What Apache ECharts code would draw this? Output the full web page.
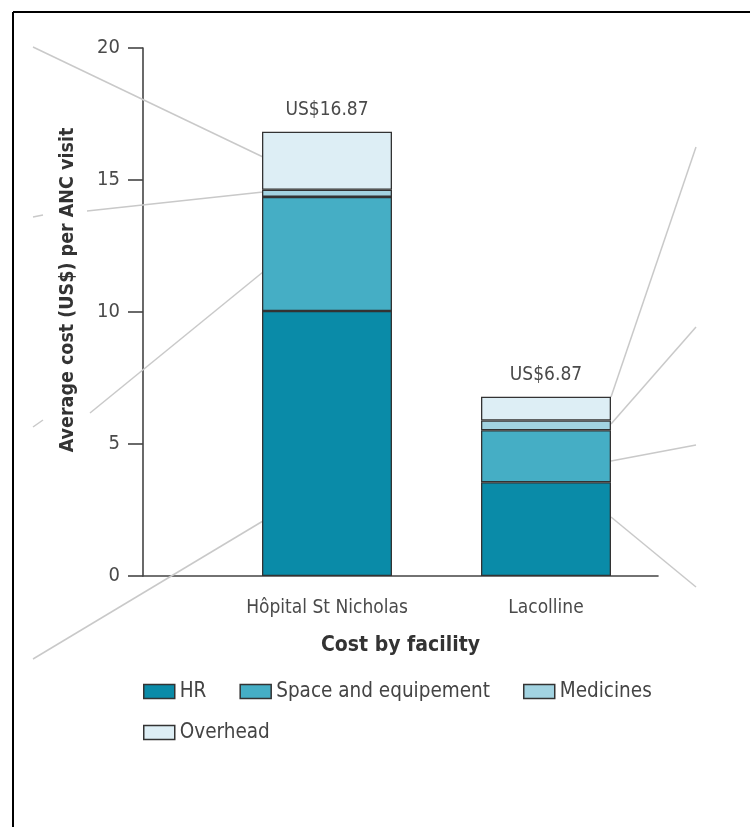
<!DOCTYPE html>
<html>
<head>
<meta charset="utf-8">
<script src="https://cdn.jsdelivr.net/npm/echarts@6/dist/echarts.min.js"></script>
<style>
html,body{margin:0;padding:0;background:#fff;}
#chart{width:750px;height:827px;}
</style>
</head>
<body>
<div id="chart"></div>
<script>
// ---- data ----
var categories = ["Hôpital St Nicholas", "Lacolline"];
var seriesNames = ["HR", "Space and equipement", "Medicines", "Overhead"];
var hrValues = [10.04, 3.55];
var spaceValues = [4.32, 1.97];
var medicineValues = [0.27, 0.37];
var overheadValues = [2.20, 0.90];
var totalLabels = ["US$16.87", "US$6.87"];
var yTicks = [0, 5, 10, 15, 20];

var colors = ["#0a8ba8", "#45aec5", "#a2d3e1", "#ddeef5"];
var FONT = "'Liberation Sans Narrow','DejaVu Sans Condensed','Roboto Condensed',sans-serif";
var valuesList = [hrValues, spaceValues, medicineValues, overheadValues];

var chart = echarts.init(document.getElementById('chart'), null, {renderer: 'canvas'});

var series = valuesList.map(function (vals, i) {
  var s = {
    name: seriesNames[i],
    type: 'bar',
    stack: 'cost',
    xAxisIndex: 0,
    yAxisIndex: 0,
    barWidth: 130,
    data: vals,
    itemStyle: {color: colors[i], borderColor: '#333', borderWidth: 1.3},
    z: 5
  };
  if (i === valuesList.length - 1) {
    s.label = {
      show: true,
      position: 'top',
      distance: 12,
      formatter: function (p) { return totalLabels[p.dataIndex]; },
      fontFamily: FONT,
      fontSize: 19,
      color: '#4a4a4a'
    };
  }
  return s;
});

// base line series for the extended x axis
series.push({type: 'line', xAxisIndex: 1, yAxisIndex: 1, data: [], silent: true});

function leader(x1, y1, x2, y2) {
  return {type: 'line', silent: true, z: 1,
    shape: {x1: x1, y1: y1, x2: x2, y2: y2},
    style: {stroke: '#c9c9c9', lineWidth: 1.5}};
}

var legendCommon = {
  left: 143, orient: 'horizontal',
  itemWidth: 31, itemHeight: 14, itemGap: 33, padding: 0,
  icon: 'rect',
  itemStyle: {borderColor: '#333', borderWidth: 1.5},
  textStyle: {fontFamily: FONT, fontSize: 20.5, color: '#444', padding: [0, 0, 0, 0]}
};

var option = {
  backgroundColor: '#fff',
  animation: false,
  textStyle: {fontFamily: FONT},
  grid: [
    {left: 217.5, right: 94.5, top: 48, bottom: 251, containLabel: false},
    {left: 143, right: 92, top: 48, bottom: 251, containLabel: false}
  ],
  xAxis: [
    {
      type: 'category', gridIndex: 0, data: categories,
      axisLine: {show: false}, axisTick: {show: false},
      axisLabel: {fontFamily: FONT, fontSize: 19, color: '#4a4a4a', margin: 23}
    },
    {
      type: 'value', gridIndex: 1, min: 0, max: 1,
      axisLine: {show: true, lineStyle: {color: '#444', width: 1.6}},
      axisTick: {show: false}, axisLabel: {show: false}, splitLine: {show: false},
      name: 'Cost by facility', nameLocation: 'middle', nameGap: 59,
      nameTextStyle: {fontFamily: FONT, fontSize: 21, fontWeight: 'bold', color: '#333'}
    }
  ],
  yAxis: [
    {
      type: 'value', gridIndex: 0, min: yTicks[0], max: yTicks[yTicks.length - 1], interval: 5,
      offset: 74.5,
      axisLine: {show: true, lineStyle: {color: '#444', width: 1.6}},
      axisTick: {show: true, inside: false, length: 15, lineStyle: {color: '#444', width: 1.6}},
      axisLabel: {fontFamily: FONT, fontSize: 20, color: '#4a4a4a', margin: 23},
      splitLine: {show: false},
      name: 'Average cost (US$) per ANC visit', nameLocation: 'middle', nameGap: 65,
      nameTextStyle: {fontFamily: FONT, fontSize: 19.5, fontWeight: 'bold', color: '#333',
        padding: [0, 0, 0, 44]}
    },
    {
      type: 'value', gridIndex: 1, min: 0, max: 20, show: false
    }
  ],
  legend: [
    Object.assign({data: seriesNames.slice(0, 3), top: 681}, legendCommon),
    Object.assign({data: seriesNames.slice(3), top: 722}, legendCommon)
  ],
  graphic: [
    // frame
    {type: 'line', silent: true, shape: {x1: 13, y1: 12, x2: 750, y2: 12}, style: {stroke: '#000', lineWidth: 2}},
    {type: 'line', silent: true, shape: {x1: 13, y1: 12, x2: 13, y2: 827}, style: {stroke: '#000', lineWidth: 2}},
    // leader lines (left)
    leader(33, 47, 263, 157),
    leader(33, 217, 43, 215),
    leader(87, 211, 263, 192),
    leader(33, 427, 43, 420),
    leader(90, 413, 263, 272),
    leader(33, 659, 263, 521),
    // leader lines (right)
    leader(611, 397, 696, 147),
    leader(611, 424, 696, 327),
    leader(611, 461, 696, 445),
    leader(611, 517, 696, 587)
  ],
  series: series
};
chart.setOption(option);
</script>
</body>
</html>
